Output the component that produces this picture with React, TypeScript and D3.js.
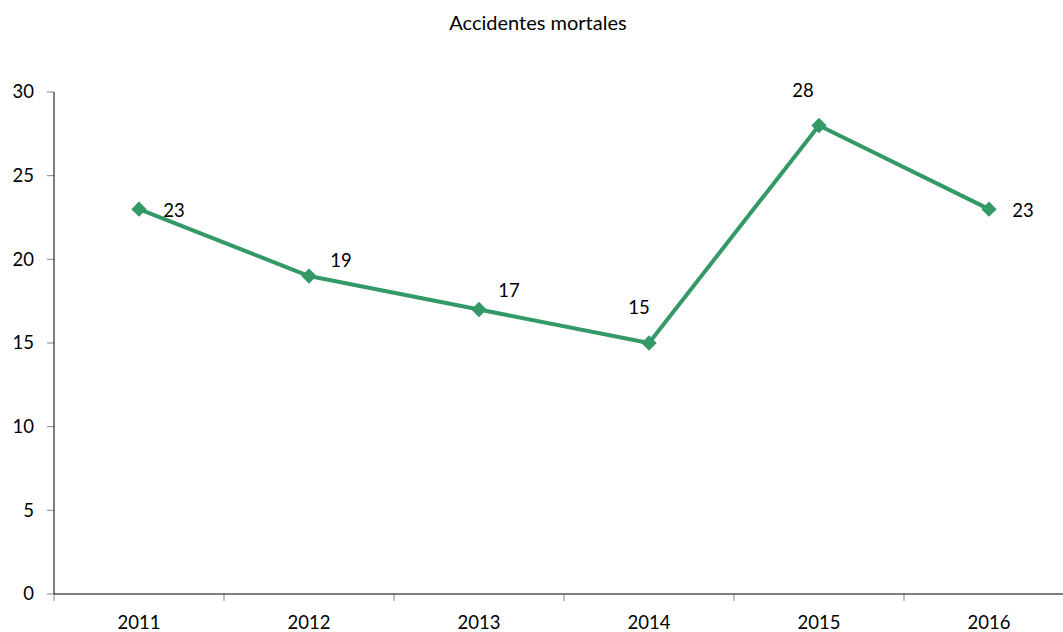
import { useMemo } from "react";
import * as d3 from "d3";

const years = ["2011", "2012", "2013", "2014", "2015", "2016"];
const accidents = [23, 19, 17, 15, 28, 23];
const yTicks = [0, 5, 10, 15, 20, 25, 30];

// label placement relative to each point (dx, dy)
const labelOffsets: [number, number][] = [
    [35, 1],
    [32, -16],
    [30, -19],
    [-10, -35],
    [-16, -35],
    [34, 1],
];

const WIDTH = 1063;
const HEIGHT = 632;
const LEFT = 54;
const BOTTOM = 594;
const TOP = 92;
const GREEN = "#339966";
const FONT = "Lato, 'Open Sans', sans-serif";

const App = () => {
    const x = useMemo(
        () => d3.scaleBand<string>().domain(years).range([LEFT, LEFT + 170 * years.length]),
        []
    );
    const y = useMemo(() => d3.scaleLinear().domain([0, 30]).range([BOTTOM, TOP]), []);

    const points = accidents.map((v, i) => [x(years[i])! + x.bandwidth() / 2, y(v)] as [number, number]);
    const line = d3.line()(points);
    const diamond = d3.symbol(d3.symbolDiamond2, 150)();

    return (
        <svg
            width={WIDTH}
            height={HEIGHT}
            style={{ position: "absolute", left: 0, top: 0, fontFamily: FONT }}
        >
            <rect width={WIDTH} height={HEIGHT} fill="#fff" />
            <text x={538} y={30} textAnchor="middle" fontSize={20} fill="#000">
                Accidentes mortales
            </text>

            {yTicks.map((t) => (
                <g key={t}>
                    <line x1={LEFT - 7} x2={LEFT} y1={y(t)} y2={y(t)} stroke="#888" />
                    <text x={34} y={y(t)} dy="0.35em" textAnchor="end" fontSize={18.5} fill="#000">
                        {t}
                    </text>
                </g>
            ))}
            {d3.range(years.length + 1).map((i) => (
                <line
                    key={i}
                    x1={LEFT + x.step() * i}
                    x2={LEFT + x.step() * i}
                    y1={BOTTOM}
                    y2={BOTTOM + 7}
                    stroke="#888"
                />
            ))}
            {years.map((yr) => (
                <text
                    key={yr}
                    x={x(yr)! + x.bandwidth() / 2}
                    y={629}
                    textAnchor="middle"
                    fontSize={18.5}
                    fill="#000"
                >
                    {yr}
                </text>
            ))}
            <line x1={LEFT} x2={LEFT} y1={TOP} y2={BOTTOM} stroke="#000" />
            <line x1={LEFT} x2={WIDTH} y1={BOTTOM} y2={BOTTOM} stroke="#000" />

            <path d={line || undefined} fill="none" stroke={GREEN} strokeWidth={4} strokeLinejoin="round" />
            {points.map((p, i) => (
                <path key={i} d={diamond || undefined} transform={`translate(${p[0]},${p[1]})`} fill={GREEN} />
            ))}
            {points.map((p, i) => (
                <text
                    key={i}
                    x={p[0] + labelOffsets[i][0]}
                    y={p[1] + labelOffsets[i][1]}
                    dy="0.35em"
                    textAnchor="middle"
                    fontSize={18.5}
                    fill="#000"
                >
                    {accidents[i]}
                </text>
            ))}
        </svg>
    );
};

export default App;
